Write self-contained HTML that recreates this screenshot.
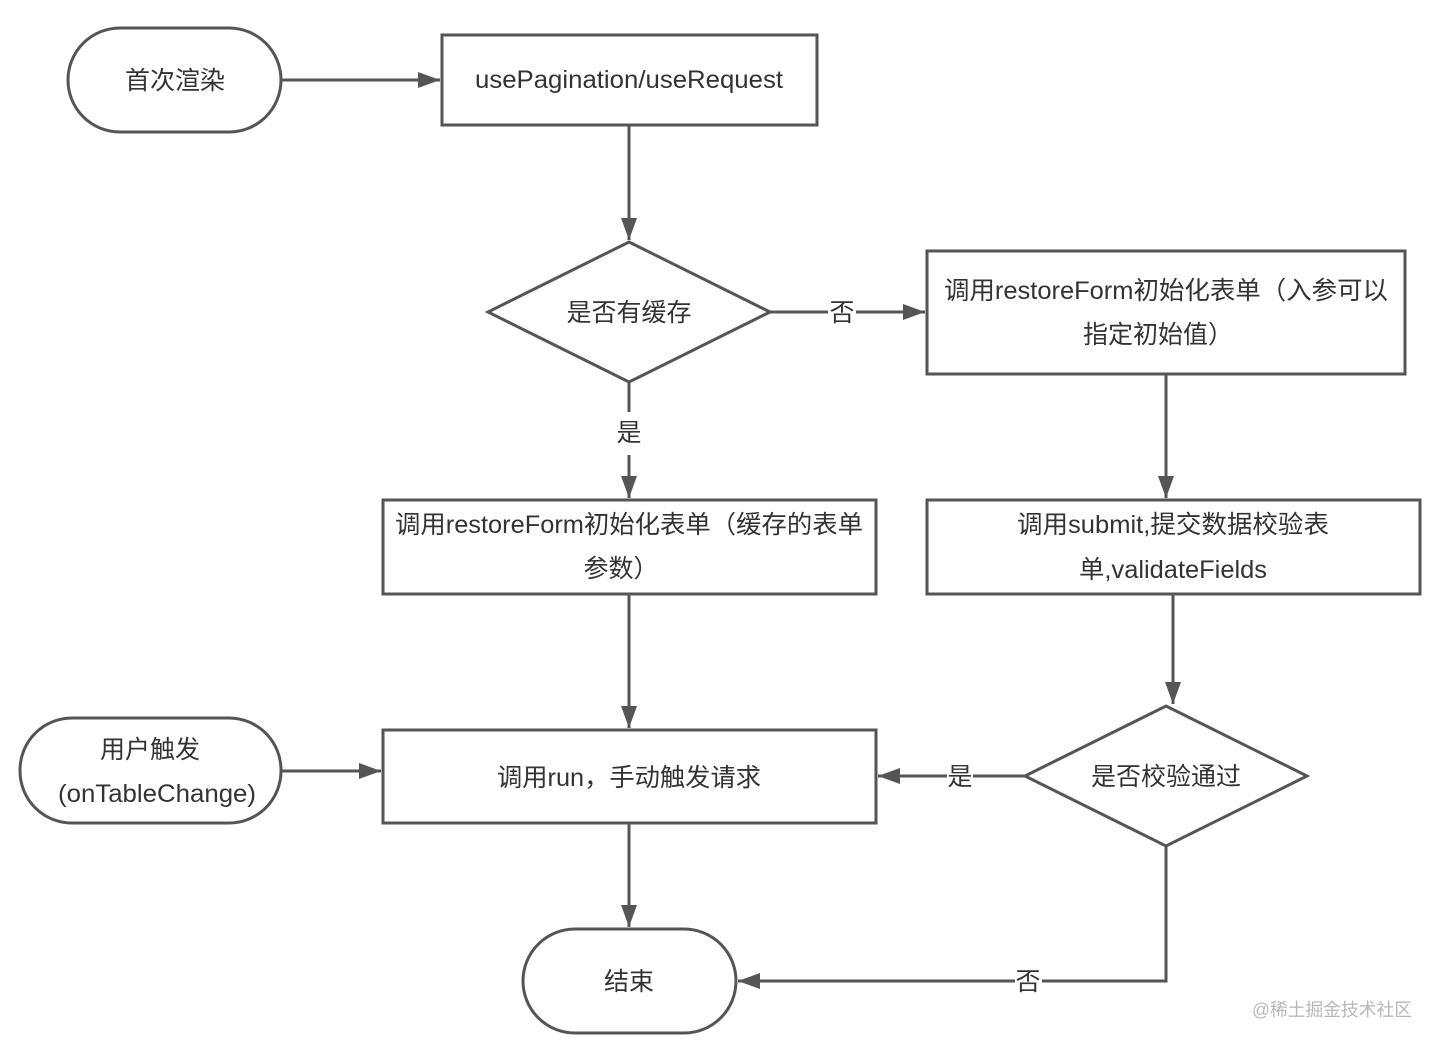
<!DOCTYPE html>
<html><head><meta charset="utf-8"><style>
html,body{margin:0;padding:0;background:#fff;}
svg{display:block;}
text{font-family:"Liberation Sans","Noto Sans CJK SC",sans-serif;font-size:25px;fill:#333;text-anchor:middle;}
.w{font-size:18px;fill:#b8b8b8;}
</style></head><body>
<svg width="1440" height="1047" viewBox="0 0 1440 1047" xmlns="http://www.w3.org/2000/svg">
<defs>
<marker id="a" markerWidth="22" markerHeight="16" refX="22" refY="8" orient="auto" markerUnits="userSpaceOnUse">
<path d="M0,0 L22,8 L0,16 Z" fill="#555"/>
</marker>
</defs>
<g fill="#fff" stroke="#555" stroke-width="3">
<rect x="68" y="28" width="213" height="104" rx="52"/>
<rect x="442" y="35" width="375" height="90"/>
<polygon points="629,242 770,312 629,382 488,312"/>
<rect x="927" y="251" width="478" height="123"/>
<rect x="383" y="500" width="493" height="94"/>
<rect x="927" y="500" width="493" height="94"/>
<polygon points="1166,706 1307,776 1166,846 1025,776"/>
<rect x="383" y="730" width="493" height="93"/>
<rect x="20" y="718" width="261" height="105" rx="52"/>
<rect x="523" y="929" width="213" height="104" rx="52"/>
</g>
<g fill="none" stroke="#555" stroke-width="3">
<line x1="281" y1="80" x2="440" y2="80" marker-end="url(#a)"/>
<line x1="629" y1="125" x2="629" y2="240" marker-end="url(#a)"/>
<line x1="770" y1="312" x2="828" y2="312"/>
<line x1="856" y1="312" x2="925" y2="312" marker-end="url(#a)"/>
<line x1="629" y1="382" x2="629" y2="412"/>
<line x1="629" y1="455" x2="629" y2="498" marker-end="url(#a)"/>
<line x1="1166" y1="374" x2="1166" y2="498" marker-end="url(#a)"/>
<line x1="629" y1="594" x2="629" y2="728" marker-end="url(#a)"/>
<line x1="1173" y1="594" x2="1173" y2="704" marker-end="url(#a)"/>
<line x1="1025" y1="776" x2="973" y2="776"/>
<line x1="947" y1="776" x2="878" y2="776" marker-end="url(#a)"/>
<line x1="281" y1="771" x2="381" y2="771" marker-end="url(#a)"/>
<line x1="629" y1="823" x2="629" y2="927" marker-end="url(#a)"/>
<polyline points="1166,846 1166,981 1042,981"/>
<line x1="1015" y1="981" x2="738" y2="981" marker-end="url(#a)"/>
</g>
<text x="175" y="89">首次渲染</text>
<text x="629" y="88" textLength="308" lengthAdjust="spacingAndGlyphs">usePagination/useRequest</text>
<text x="629" y="321">是否有缓存</text>
<text x="842" y="321">否</text>
<text x="1166" y="299" textLength="444" lengthAdjust="spacingAndGlyphs">调用restoreForm初始化表单（入参可以</text>
<text x="1158" y="343">指定初始值）</text>
<text x="629" y="441">是</text>
<text x="629" y="533" textLength="468" lengthAdjust="spacingAndGlyphs">调用restoreForm初始化表单（缓存的表单</text>
<text x="621" y="577">参数）</text>
<text x="1173" y="533" textLength="312" lengthAdjust="spacingAndGlyphs">调用submit,提交数据校验表</text>
<text x="1173" y="578" textLength="188" lengthAdjust="spacingAndGlyphs">单,validateFields</text>
<text x="1166" y="785">是否校验通过</text>
<text x="960" y="785">是</text>
<text x="629" y="786" textLength="264" lengthAdjust="spacingAndGlyphs">调用run，手动触发请求</text>
<text x="150" y="758">用户触发</text>
<text x="157" y="802" textLength="198" lengthAdjust="spacingAndGlyphs">(onTableChange)</text>
<text x="629" y="990">结束</text>
<text x="1028" y="990">否</text>
<text class="w" x="1332" y="1016" textLength="160" lengthAdjust="spacingAndGlyphs">@稀土掘金技术社区</text>
</svg>
</body></html>
